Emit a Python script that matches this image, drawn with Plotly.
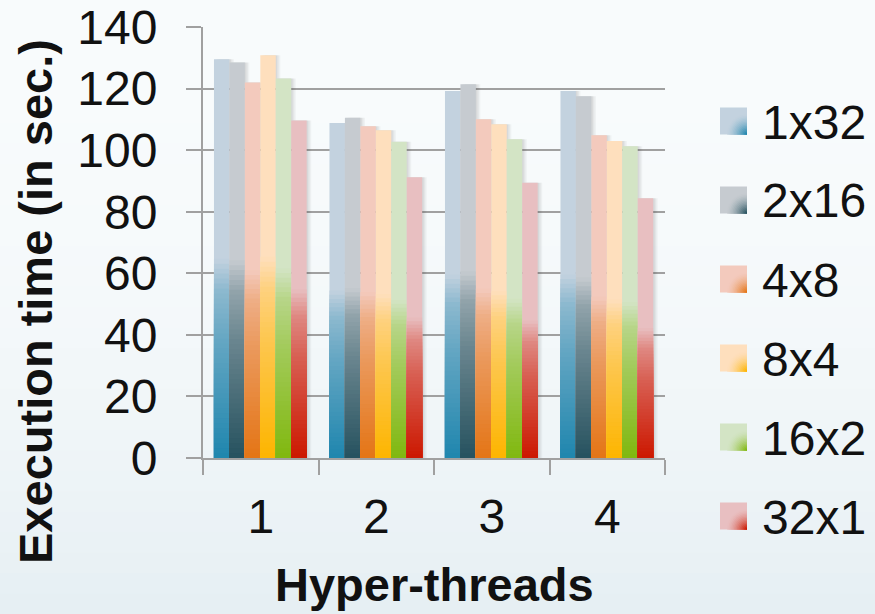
import math
import plotly.graph_objects as go

# ---- data -------------------------------------------------------------
hyper_threads = ["1", "2", "3", "4"]
configs = ["1x32", "2x16", "4x8", "8x4", "16x2", "32x1"]

t_1x32 = [129.5, 108.8, 119.2, 119.2]
t_2x16 = [128.5, 110.5, 121.4, 117.5]
t_4x8 = [122.0, 107.8, 110.0, 104.8]
t_8x4 = [130.8, 106.5, 108.4, 103.0]
t_16x2 = [123.3, 102.7, 103.5, 101.3]
t_32x1 = [109.6, 91.2, 89.4, 84.4]

y_ticks = [0, 20, 40, 60, 80, 100, 120, 140]

series = [t_1x32, t_2x16, t_4x8, t_8x4, t_16x2, t_32x1]

# ---- styling ----------------------------------------------------------
light = ["#C3D2DF", "#C6CBD0", "#F3CABD", "#FEDFBD", "#D3E4C5", "#E8BFC1"]
dark = ["#1F86AE", "#26525F", "#E47515", "#FDB500", "#80B80F", "#CC1800"]

W, H = 875, 614
L, R, T, B = 203, 210, 27, 156
PW, PH = W - L - R, H - T - B
CAT_PX = PW / len(hyper_threads)
BAR_W = 15.45 / CAT_PX
GROUP_START = -0.405

FONT = "Liberation Sans, Arial, sans-serif"


def hex2rgb(h):
    h = h.lstrip("#")
    return tuple(int(h[i:i + 2], 16) for i in (0, 2, 4))


def mix(c1, c2, a):
    r1, r2 = hex2rgb(c1), hex2rgb(c2)
    return "rgb(%d,%d,%d)" % tuple(round(x + (y - x) * a) for x, y in zip(r1, r2))


# fraction-of-height -> amount of dark colour
STOPS = [(0.0, 1.0), (0.3, 0.57), (0.42, 0.33), (0.5, 0.0)]


def dark_amount(t):
    if t >= STOPS[-1][0]:
        return 0.0
    for (t0, a0), (t1, a1) in zip(STOPS, STOPS[1:]):
        if t0 <= t <= t1:
            return a0 + (a1 - a0) * (t - t0) / (t1 - t0)
    return 1.0


def px_x(px):
    return (px - L) / PW


def px_y(py):
    return (H - B - py) / PH


fig = go.Figure()

# soft drop shadows behind each bar
for i, vals in enumerate(series):
    for dx, op in [(4.5, 0.05), (3.0, 0.06), (1.5, 0.07)]:
        fig.add_trace(go.Bar(
            x=hyper_threads, y=vals,
            offset=GROUP_START + i * BAR_W + dx / CAT_PX, width=BAR_W,
            marker=dict(color="rgba(60,60,60,%.2f)" % op, line=dict(width=0)),
            showlegend=False, hoverinfo="skip",
        ))

# gradient bars: full light bar, then progressively shorter, darker bars on top
N = 40
for i, (name, vals) in enumerate(zip(configs, series)):
    off = GROUP_START + i * BAR_W
    fig.add_trace(go.Bar(
        x=hyper_threads, y=vals, offset=off, width=BAR_W, name=name,
        marker=dict(color=light[i], line=dict(width=0)),
        showlegend=False,
    ))
    for k in range(N, 0, -1):
        frac = 0.5 * k / N
        a = dark_amount(frac - 0.25 / N)
        fig.add_trace(go.Bar(
            x=hyper_threads, y=[v * frac for v in vals],
            offset=off, width=BAR_W,
            marker=dict(color=mix(light[i], dark[i], a), line=dict(width=0)),
            showlegend=False, hoverinfo="skip",
        ))

shapes = []

# subtle page background gradient
top_bg, bot_bg = "#F8FBFC", "#E6EFF3"
NB = 30
for k in range(NB):
    y0 = H * k / NB
    y1 = H * (k + 1) / NB + 1
    a = (k / (NB - 1)) ** 2.2
    shapes.append(dict(
        type="rect", xref="paper", yref="paper", layer="below",
        x0=px_x(0), x1=px_x(W), y0=px_y(y1), y1=px_y(y0),
        line=dict(width=0), fillcolor=mix(top_bg, bot_bg, a),
    ))

# legend swatches and labels
annotations = []
SW = 27
for i, name in enumerate(configs):
    cy = 121 + 79 * i
    x0, x1 = 720, 720 + SW
    y0, y1 = cy - SW / 2, cy + SW / 2
    shapes.append(dict(
        type="rect", xref="paper", yref="paper",
        x0=px_x(x0), x1=px_x(x1), y0=px_y(y1), y1=px_y(y0),
        line=dict(width=0), fillcolor=light[i],
    ))
    # radial shading towards the lower-right corner
    NR = 14
    for r in range(NR):
        rad = 20 * (1 - r / NR)
        amt = (r + 1) / NR
        pts = [(x1, y1)]
        for s in range(17):
            ang = math.pi / 2 + (math.pi / 2) * s / 16
            pts.append((x1 + rad * math.cos(ang), y1 - rad * math.sin(ang)))
        path = "M" + " L".join("%.5f,%.5f" % (px_x(px), px_y(py)) for px, py in pts) + " Z"
        shapes.append(dict(
            type="path", xref="paper", yref="paper", path=path,
            line=dict(width=0), fillcolor=mix(light[i], dark[i], amt ** 1.6),
        ))
    annotations.append(dict(
        text=name, xref="paper", yref="paper", x=px_x(760), y=px_y(cy + 1),
        xanchor="left", yanchor="middle", showarrow=False,
        font=dict(family=FONT, size=48, color="#111111"),
    ))

# axis titles
annotations.append(dict(
    text="<b>Hyper-threads</b>", xref="paper", yref="paper",
    x=px_x(434), y=px_y(584), xanchor="center", yanchor="middle",
    showarrow=False, font=dict(family=FONT, size=47, color="#111111"),
))
annotations.append(dict(
    text="<b>Execution time (in sec.)</b>", xref="paper", yref="paper",
    x=px_x(35), y=px_y(302), xanchor="center", yanchor="middle", textangle=-90,
    showarrow=False, font=dict(family=FONT, size=47, color="#111111"),
))

fig.update_layout(
    width=W, height=H,
    margin=dict(l=L, r=R, t=T, b=B, autoexpand=False),
    barmode="overlay",
    paper_bgcolor="#F4F8F9",
    plot_bgcolor="rgba(0,0,0,0)",
    showlegend=False,
    shapes=shapes,
    annotations=annotations,
    font=dict(family=FONT, color="#111111"),
    xaxis=dict(
        type="category", range=[-0.5, 3.5], automargin=False,
        showline=True, linecolor="#A0A0A0", linewidth=2,
        ticks="outside", tickson="boundaries", ticklen=15, tickwidth=2,
        tickcolor="#A0A0A0", showgrid=False,
        tickfont=dict(family=FONT, size=48, color="#111111"),
        ticklabelstandoff=15,
    ),
    yaxis=dict(
        range=[0, 140], tickvals=y_ticks, automargin=False,
        showline=True, linecolor="#A0A0A0", linewidth=2,
        ticks="outside", ticklen=15, tickwidth=2, tickcolor="#A0A0A0",
        showgrid=True, gridcolor="#A0A0A0", gridwidth=2, zeroline=False,
        tickfont=dict(family=FONT, size=48, color="#111111"),
        ticklabelstandoff=19,
    ),
)

fig.write_html("out.html")
